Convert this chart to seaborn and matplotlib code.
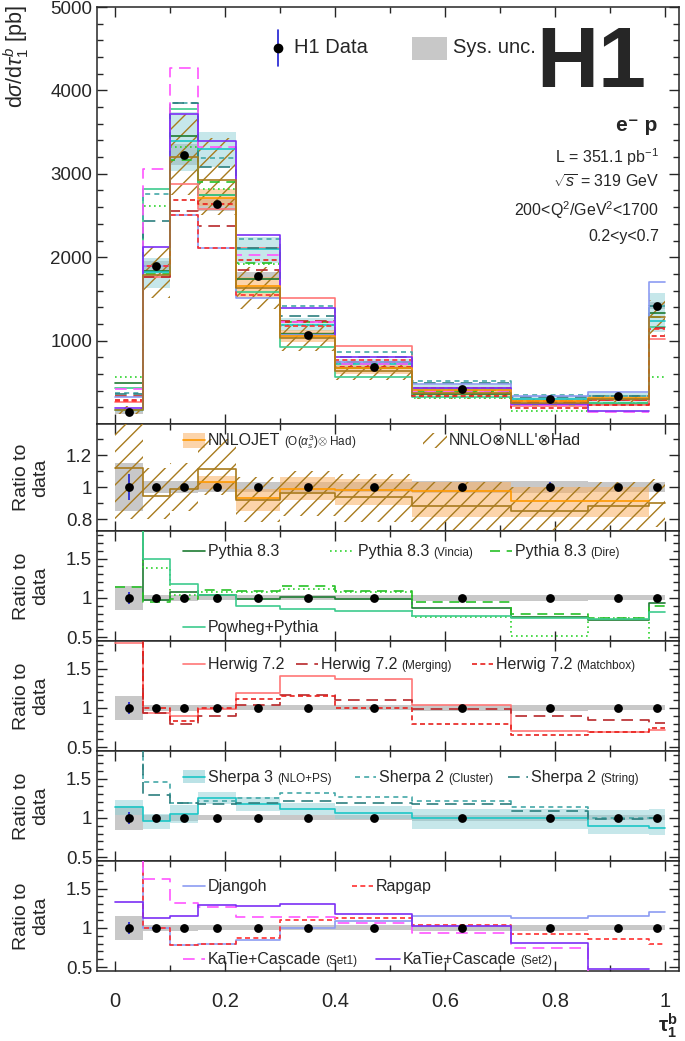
import numpy as np
import matplotlib
matplotlib.use("Agg")
import matplotlib.pyplot as plt
from matplotlib.patches import Rectangle
from matplotlib.ticker import MultipleLocator
import seaborn as sns

# tau_1^b binning
edges = [0, 0.05, 0.1, 0.15, 0.22, 0.3, 0.4, 0.54, 0.72, 0.86, 0.97, 1.0]
centers = [0.025, 0.075, 0.125, 0.185, 0.26, 0.35, 0.47, 0.63, 0.79, 0.915, 0.985]

# H1 data [pb] and relative uncertainties
data_xs = [145, 1890, 3230, 2635, 1775, 1068, 680, 420, 300, 336, 1420]
stat_rel = [0.08, 0.01, 0.01, 0.01, 0.01, 0.01, 0.01, 0.02, 0.03, 0.02, 0.01]
sys_rel = [0.15, 0.035, 0.04, 0.03, 0.03, 0.03, 0.03, 0.04, 0.035, 0.03, 0.03]

nan = np.nan
# predictions, as ratio to data
nnlojet = [nan, nan, nan, 1.03, 0.93, 0.99, 0.98, 0.975, 0.91, 0.91, nan]
nnlojet_lo = [nan, nan, nan, 0.99, 0.85, 0.92, 0.89, 0.81, 0.81, 0.81, nan]
nnlojet_hi = [nan, nan, nan, 1.07, 0.99, 1.06, 1.05, 1.03, 1.00, 1.00, nan]
nnll = [1.12, 0.945, 0.99, 1.11, 0.92, 0.965, 0.94, 0.88, 0.85, 0.88, 0.90]
nnll_lo = [0.80, 0.80, 0.85, 0.95, 0.78, 0.82, 0.78, 0.72, 0.70, 0.72, 0.75]
nnll_hi = [1.50, 1.12, 1.15, 1.30, 1.06, 1.10, 1.08, 1.03, 1.00, 1.03, 1.05]

pythia = [3.38, 0.97, 1.07, 1.04, 0.98, 1.01, 0.98, 0.87, 0.755, 0.715, 0.94]
vincia = [3.85, 1.38, 1.03, 1.07, 1.08, 1.11, 1.07, 0.755, 0.52, 0.74, 0.40]
dire = [1.14, 0.95, 0.98, 1.10, 1.09, 1.15, 1.09, 0.95, 0.79, 0.745, 0.90]
powheg = [3.0, 1.49, 1.17, 1.04, 0.89, 0.86, 0.83, 0.765, 0.745, 0.735, 0.82]

herwig = [1.82, 0.93, 0.89, 0.98, 1.19, 1.41, 1.37, 1.03, 0.71, 0.69, 0.72]
herwig_merg = [2.3, 0.93, 0.79, 0.90, 1.04, 1.16, 1.10, 0.98, 0.89, 0.85, 0.81]
herwig_mbox = [2.0, 1.0, 0.83, 1.0, 1.11, 1.15, 1.0, 0.79, 0.65, 0.69, 0.74]

sherpa3 = [1.14, 0.965, 1.05, 1.25, 1.18, 1.115, 1.06, 1.0, 1.0, 0.90, 0.87]
sherpa3_lo = [1.03, 0.86, 0.94, 1.17, 1.09, 1.04, 0.98, 0.86, 0.86, 0.80, 0.78]
sherpa3_hi = [1.23, 1.05, 1.16, 1.33, 1.26, 1.19, 1.15, 1.11, 1.11, 1.10, 1.11]
sherpa2_cl = [2.6, 1.46, 1.19, 1.21, 1.25, 1.32, 1.27, 1.22, 1.14, 1.0, 1.0]
sherpa2_st = [2.5, 1.29, 1.19, 1.17, 1.19, 1.21, 1.19, 1.17, 1.09, 0.99, 1.0]

djangoh = [2.2, 1.0, 0.775, 0.80, 0.85, 1.0, 1.09, 1.15, 1.13, 1.15, 1.2]
rapgap = [1.9, 1.0, 0.775, 0.80, 0.87, 1.10, 1.13, 1.04, 0.92, 0.86, 0.80]
katie1 = [2.9, 1.62, 1.32, 1.26, 1.14, 1.14, 1.06, 0.93, 0.74, 0.44, nan]
katie2 = [1.33, 1.12, 1.15, 1.29, 1.28, 1.30, 1.18, 1.02, 0.81, 0.47, nan]

C_NNLOJET, C_NNLL = "#FF9900", "#A87B1E"
C_SHERPA3 = "#1CC6C6"
# (values, colour, linestyle, ratio panel)
models = [
    (pythia, "#1E7B32", "-", 2),
    (vincia, "#2ED42E", (0, (1, 2)), 2),
    (dire, "#28C028", (0, (6, 4)), 2),
    (powheg, "#3DCB8E", "-", 2),
    (herwig, "#FF7777", "-", 3),
    (herwig_merg, "#B8282A", (0, (7, 4)), 3),
    (herwig_mbox, "#E8201C", (0, (3, 2)), 3),
    (sherpa3, C_SHERPA3, "-", 4),
    (sherpa2_cl, "#44A8A8", (0, (3, 2.5)), 4),
    (sherpa2_st, "#2C7F7F", (0, (7, 4)), 4),
    (djangoh, "#8C9CF2", "-", 5),
    (rapgap, "#FF3030", (0, (3, 2)), 5),
    (katie1, "#FF55FF", (0, (7, 4)), 5),
    (katie2, "#7B2FF5", "-", 5),
]

sns.set_theme(style="ticks")
plt.rcParams["font.family"] = ["Liberation Sans", "DejaVu Sans"]
plt.rcParams["mathtext.fontset"] = "custom"
plt.rcParams["mathtext.rm"] = "Liberation Sans"
plt.rcParams["mathtext.it"] = "Liberation Sans:italic"
plt.rcParams["mathtext.bf"] = "Liberation Sans:bold"
plt.rcParams["axes.linewidth"] = 1.1
plt.rcParams["hatch.linewidth"] = 1.0


def steps(vals):
    v = np.asarray(vals, float)
    ok = np.flatnonzero(np.isfinite(v))
    i0, i1 = ok[0], ok[-1] + 1
    x = np.asarray(edges)[i0:i1 + 1]
    y = np.append(v[i0:i1], v[i1 - 1])
    return x, y


def draw_line(ax, vals, color, ls="-", lw=1.2, scale=1.0):
    x, y = steps(np.asarray(vals, float) * scale)
    sns.lineplot(x=x, y=y, ax=ax, color=color, linestyle=ls, linewidth=lw,
                 drawstyle="steps-post", estimator=None, sort=False, zorder=4)


def draw_band(ax, lo, hi, scale=1.0, **kw):
    x, ylo = steps(np.asarray(lo, float) * scale)
    _, yhi = steps(np.asarray(hi, float) * scale)
    ax.fill_between(x, ylo, yhi, step="post", **kw)


def draw_data(ax, vals, errs):
    ax.errorbar(centers, vals, yerr=errs, fmt="none", ecolor="#1E1ED2",
                elinewidth=1.2, zorder=6)
    sns.scatterplot(x=centers, y=vals, ax=ax, color="black", s=40,
                    linewidth=0, zorder=7)


def style_axes(ax, bottom=False):
    ax.set_xlim(-0.033, 1.025)
    ax.xaxis.set_major_locator(MultipleLocator(0.2))
    ax.xaxis.set_minor_locator(MultipleLocator(0.1))
    ax.tick_params(which="both", direction="in", top=True, right=True,
                   labelsize=13.5, width=1.0)
    ax.tick_params(which="major", length=7)
    ax.tick_params(which="minor", length=4)
    if bottom:
        ax.set_xticks([0, 0.2, 0.4, 0.6, 0.8, 1.0])
        ax.set_xticklabels(["0", "0.2", "0.4", "0.6", "0.8", "1"])
        ax.tick_params(axis="x", labelsize=14.5, pad=15)
    else:
        ax.tick_params(labelbottom=False)


fig = plt.figure(figsize=(6.85, 10.41), dpi=100)
L, W = 97 / 685, 582 / 685


def add_panel(top_px, bot_px):
    return fig.add_axes([L, 1 - bot_px / 1041, W, (bot_px - top_px) / 1041])


ax0 = add_panel(7, 424)
rax = [add_panel(424, 531), add_panel(531, 641), add_panel(641, 751),
       add_panel(751, 861), add_panel(861, 971)]

data = np.asarray(data_xs, float)
sysr = np.asarray(sys_rel)
statr = np.asarray(stat_rel)

# ---------------- main panel ----------------
draw_band(ax0, 1 - sysr, 1 + sysr, scale=data, color="#C8C8C8", lw=0, zorder=1)
draw_band(ax0, sherpa3_lo, sherpa3_hi, scale=data, color="#8FD0D6", alpha=0.5, lw=0, zorder=2)
draw_band(ax0, nnlojet_lo, nnlojet_hi, scale=data, color="#FBB264", alpha=0.55, lw=0, zorder=2)
draw_band(ax0, nnll_lo, nnll_hi, scale=data, facecolor="none", edgecolor=C_NNLL,
          hatch="//", lw=0, zorder=3)
for vals, col, ls, _ in models:
    draw_line(ax0, vals, col, ls, scale=data)
draw_line(ax0, nnlojet, C_NNLOJET, "-", scale=data)
draw_line(ax0, nnll, C_NNLL, "-", scale=data)
draw_data(ax0, data, data * statr)

style_axes(ax0)
ax0.set_ylim(0, 5000)
ax0.set_yticks([1000, 2000, 3000, 4000, 5000])
ax0.set_yticklabels(["1000", "2000", "3000", "4000", "5000"])
ax0.yaxis.set_minor_locator(MultipleLocator(200))

tr = ax0.transAxes
ax0.plot([0.311, 0.311], [0.859, 0.945], transform=tr, color="#1E1ED2", lw=1.2)
ax0.plot([0.311], [0.902], "o", transform=tr, color="black", ms=6)
ax0.text(0.338, 0.902, "H1 Data", transform=tr, fontsize=14.5, va="center")
ax0.add_patch(Rectangle((0.541, 0.873), 0.06, 0.055, transform=tr,
                        color="#C8C8C8", lw=0))
ax0.text(0.612, 0.902, "Sys. unc.", transform=tr, fontsize=14.5, va="center")
ax0.text(0.944, 0.862, "H1", transform=tr, fontsize=62, fontweight="bold",
         ha="right", va="center")
ax0.text(0.962, 0.717, "e\u207b p", transform=tr, fontsize=15, fontweight="bold",
         ha="right", va="center")
info = ["L = 351.1 pb$^{-1}$", r"$\sqrt{s}$ = 319 GeV",
        "200<Q$^2$/GeV$^2$<1700", "0.2<y<0.7"]
for txt, yy in zip(info, [0.64, 0.58, 0.513, 0.45]):
    ax0.text(0.966, yy, txt, transform=tr, fontsize=11.5, ha="right", va="center")

fig.text(16 / 685, 1 - 5 / 1041, r"d$\sigma$/d$\tau_1^b$ [pb]", rotation=90,
         ha="center", va="top", fontsize=15.5)

# ---------------- ratio panels ----------------
for i, ax in enumerate(rax):
    draw_band(ax, 1 - sysr, 1 + sysr, color="#C8C8C8", lw=0, zorder=1)
    if i == 0:
        draw_band(ax, nnlojet_lo, nnlojet_hi, color="#FBB264", alpha=0.55, lw=0, zorder=2)
        draw_band(ax, nnll_lo, nnll_hi, facecolor="none", edgecolor=C_NNLL,
                  hatch="//", lw=0, zorder=3)
        draw_line(ax, nnlojet, C_NNLOJET)
        draw_line(ax, nnll, C_NNLL)
    if i == 3:
        draw_band(ax, sherpa3_lo, sherpa3_hi, color="#8FD0D6", alpha=0.5, lw=0, zorder=2)
    for vals, col, ls, p in models:
        if p == i + 1:
            draw_line(ax, vals, col, ls)
    draw_data(ax, np.ones(11), statr)
    style_axes(ax, bottom=(i == 4))
    if i == 0:
        ax.set_ylim(0.725, 1.394)
        ax.set_yticks([0.8, 1.0, 1.2])
        ax.set_yticklabels(["0.8", "1", "1.2"])
    else:
        ax.set_ylim(0.45, 1.85)
        ax.set_yticks([0.5, 1.0, 1.5])
        ax.set_yticklabels(["0.5", "1", "1.5"])
    ax.yaxis.set_minor_locator(MultipleLocator(0.1))
    pos = ax.get_position()
    fig.text(31 / 685, pos.y0 + pos.height / 2, "Ratio to\ndata", rotation=90,
             ha="center", va="center", multialignment="center", fontsize=14)


def px(x):
    return (x - 97) / 582


renderer = fig.canvas.get_renderer()


def leg_line(ax, x0, x1, y, color, ls, big, small=None):
    t_ = ax.transAxes
    ax.plot([px(x0), px(x1)], [y, y], transform=t_, color=color, ls=ls, lw=1.2)
    yb = y - 0.045 / (ax.get_position().height / 0.1057)
    t = ax.text(px(x1 + 3), yb, big, transform=t_, fontsize=11.5, va="baseline")
    if small:
        bb = t.get_window_extent(renderer)
        xs = t_.inverted().transform((bb.x1 + 4, 0))[0]
        ax.text(xs, yb, small, transform=t_, fontsize=8.5, va="baseline")
    return t


# panel 1 legend
a = rax[0]
a.add_patch(Rectangle((px(183), 0.78), px(205) - px(183), 0.14, transform=a.transAxes,
                      color="#FBB264", alpha=0.55, lw=0))
leg_line(a, 183, 205, 0.85, C_NNLOJET, "-", "NNLOJET", r"(O($\alpha_s^3$)$\otimes$ Had)")
a.add_patch(Rectangle((px(423), 0.78), px(447) - px(423), 0.14, transform=a.transAxes,
                      facecolor="none", edgecolor=C_NNLL, hatch="//", lw=0))
a.text(px(449), 0.85, "NNLO\u2297NLL'\u2297Had", transform=a.transAxes,
       fontsize=11.5, va="center")

# panel 2 legend
a = rax[1]
leg_line(a, 183, 205, 0.818, "#1E7B32", "-", "Pythia 8.3")
leg_line(a, 330, 355, 0.818, "#2ED42E", (0, (1, 2)), "Pythia 8.3", "(Vincia)")
leg_line(a, 490, 512, 0.818, "#28C028", (0, (6, 4)), "Pythia 8.3", "(Dire)")
leg_line(a, 183, 205, 0.127, "#3DCB8E", "-", "Powheg+Pythia")

# panel 3 legend
a = rax[2]
leg_line(a, 183, 205, 0.79, "#FF7777", "-", "Herwig 7.2")
leg_line(a, 296, 318, 0.79, "#B8282A", (0, (7, 4)), "Herwig 7.2", "(Merging)")
leg_line(a, 472, 493, 0.79, "#E8201C", (0, (3, 2)), "Herwig 7.2", "(Matchbox)")

# panel 4 legend
a = rax[3]
a.add_patch(Rectangle((px(183), 0.705), px(205) - px(183), 0.118, transform=a.transAxes,
                      color="#8FD0D6", alpha=0.6, lw=0))
leg_line(a, 183, 205, 0.764, C_SHERPA3, "-", "Sherpa 3", "(NLO+PS)")
leg_line(a, 355, 376, 0.764, "#44A8A8", (0, (3, 2.5)), "Sherpa 2", "(Cluster)")
leg_line(a, 508, 528, 0.764, "#2C7F7F", (0, (7, 4)), "Sherpa 2", "(String)")

# panel 5 legend
a = rax[4]
leg_line(a, 183, 205, 0.773, "#8C9CF2", "-", "Djangoh")
leg_line(a, 352, 373, 0.773, "#FF3030", (0, (3, 2)), "Rapgap")
leg_line(a, 183, 205, 0.109, "#FF55FF", (0, (7, 4)), "KaTie+Cascade", "(Set1)")
leg_line(a, 376, 400, 0.109, "#7B2FF5", "-", "KaTie+Cascade", "(Set2)")

fig.text(668 / 685, 1 - 1026 / 1041, r"$\mathbf{\tau_1^b}$", fontsize=15,
         ha="center", va="center")

fig.savefig("out.png", dpi=100)
